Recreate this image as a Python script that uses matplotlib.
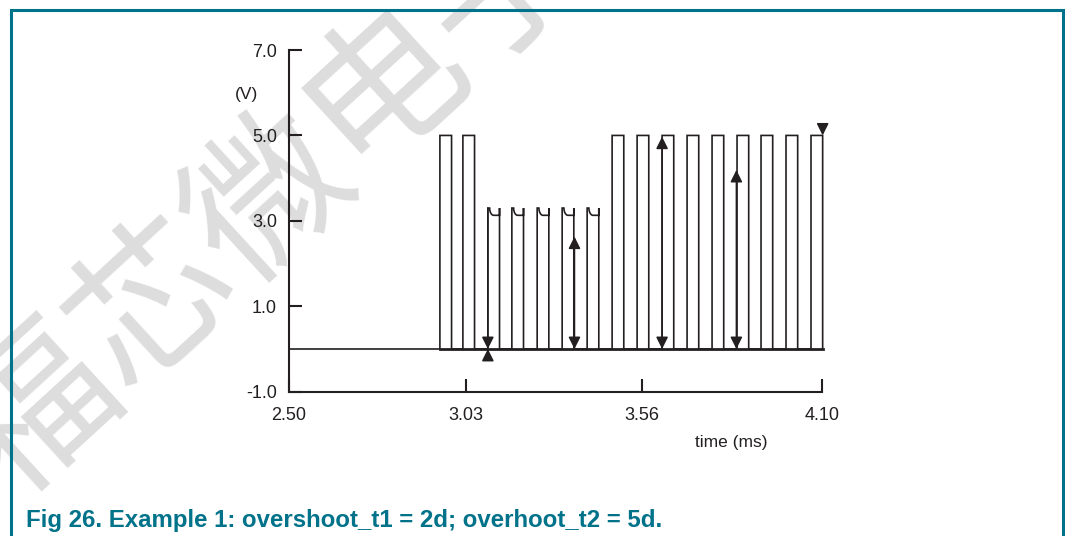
"""
Overshoot example waveform (Fig 26) - pulse train with reduced pulses.
Output: out.png
"""

import numpy as np
import matplotlib
matplotlib.use('Agg')
import matplotlib.pyplot as plt
from matplotlib.lines import Line2D

# ─────────────────────────────────────────────────────────────────────────────
# COLORS / FONTS
# ─────────────────────────────────────────────────────────────────────────────
INK       = "#231f20"
TEAL      = "#00728a"
WATERMARK = "#dddddd"

plt.rcParams['font.family'] = ['Liberation Sans', 'DejaVu Sans']

# ─────────────────────────────────────────────────────────────────────────────
# DATA
# ─────────────────────────────────────────────────────────────────────────────
T_START     = 2.50
PULSE_START = [2.953, 3.022, 3.097, 3.169, 3.245, 3.320, 3.395, 3.470,
               3.545, 3.620, 3.695, 3.770, 3.845, 3.917, 3.992, 4.067]
PULSE_WIDTH = 0.035
PULSE_LEVEL = [5.0, 5.0, 3.3, 3.3, 3.3, 3.3, 3.3, 5.0,
               5.0, 5.0, 5.0, 5.0, 5.0, 5.0, 5.0, 5.0]
LOW_SETTLE  = 3.13     # reduced pulses droop to this after the overshoot

# dimension arrows (0 V up to the given level)
DOUBLE_X   = [3.357, 3.620, 3.843]
DOUBLE_TOP = [2.63, 4.97, 4.19]
PINCH_X    = 3.097     # arrowheads meeting at 0 V
PINCH_TOP  = 3.3
CAP_X      = 4.102     # marker on top of the last pulse
CAP_Y      = 5.0

X_TICKS = [2.50, 3.03, 3.56, 4.10]
Y_TICKS = [-1.0, 1.0, 3.0, 5.0, 7.0]

CAPTION = "Fig 26. Example 1: overshoot_t1 = 2d; overhoot_t2 = 5d."

# ─────────────────────────────────────────────────────────────────────────────
# WAVEFORM PATH
# ─────────────────────────────────────────────────────────────────────────────
xs, ys = [T_START], [0.0]
arc = np.linspace(0, np.pi / 2, 12)
for t0, lvl in zip(PULSE_START, PULSE_LEVEL):
    t1 = t0 + PULSE_WIDTH
    xs += [t0, t0]
    ys += [0.0, lvl]
    if lvl < max(PULSE_LEVEL):
        stub = t0 + 0.15 * PULSE_WIDTH
        run = 0.35 * PULSE_WIDTH
        xs += list(stub + run * (1 - np.cos(arc)))
        ys += list(LOW_SETTLE + (lvl - LOW_SETTLE) * (1 - np.sin(arc)))
        xs += [t1, t1, t1]
        ys += [LOW_SETTLE, lvl, 0.0]
    else:
        xs += [t1, t1]
        ys += [lvl, 0.0]

# ─────────────────────────────────────────────────────────────────────────────
# FIGURE
# ─────────────────────────────────────────────────────────────────────────────
fig = plt.figure(figsize=(10.66, 5.36), dpi=100, facecolor='white')

# watermark
fig.text(0.255, 0.625, "福芯微电子", rotation=42.5, fontsize=114,
         color=WATERMARK, ha='center', va='center',
         family=['Noto Sans CJK SC', 'DejaVu Sans'], fontweight='normal',
         zorder=0)

ax = fig.add_axes([0.2711, 0.2692, 0.5, 0.6375])
ax.set_zorder(1)
ax.patch.set_alpha(0)

ax.plot(xs, ys, color=INK, lw=1.2, solid_joinstyle='miter', clip_on=False)
ax.plot([PULSE_START[0], PULSE_START[-1] + PULSE_WIDTH], [0, 0],
        color=INK, lw=2.0, clip_on=False)

head = '<|-|>,head_length=0.6,head_width=0.3'
single = '-|>,head_length=0.6,head_width=0.3'
aprops = dict(color=INK, lw=1.1, shrinkA=0, shrinkB=0, mutation_scale=12)

for x, top in zip(DOUBLE_X, DOUBLE_TOP):
    ax.annotate('', xy=(x, top), xytext=(x, 0),
                arrowprops=dict(arrowstyle=head, **aprops),
                annotation_clip=False)

ax.annotate('', xy=(PINCH_X, 0), xytext=(PINCH_X, PINCH_TOP),
            arrowprops=dict(arrowstyle=single, **aprops), annotation_clip=False)
ax.annotate('', xy=(PINCH_X, 0), xytext=(PINCH_X, -0.25),
            arrowprops=dict(arrowstyle=single, **aprops), annotation_clip=False)
ax.annotate('', xy=(CAP_X, CAP_Y), xytext=(CAP_X, CAP_Y + 0.22),
            arrowprops=dict(arrowstyle=single, **aprops), annotation_clip=False)

# axes styling
ax.set_xlim(X_TICKS[0], X_TICKS[-1])
ax.set_ylim(Y_TICKS[0], Y_TICKS[-1])
ax.set_xticks(X_TICKS)
ax.set_xticklabels([f"{v:.2f}" for v in X_TICKS])
ax.set_yticks(Y_TICKS)
ax.set_yticklabels([f"{v:.1f}" for v in Y_TICKS])
for side in ['top', 'right']:
    ax.spines[side].set_visible(False)
for side in ['left', 'bottom']:
    ax.spines[side].set_color(INK)
    ax.spines[side].set_linewidth(1.5)
ax.tick_params(direction='in', length=9.4, width=1.5, color=INK,
               labelcolor=INK, labelsize=13)
ax.tick_params(axis='y', pad=8.7)
ax.tick_params(axis='x', pad=11)

ax.text(2.372, 5.95, "(V)", ha='center', va='center', fontsize=12.5,
        color=INK, clip_on=False)
ax.text(3.827, -2.18, "time (ms)", ha='center', va='center', fontsize=12.5,
        color=INK, clip_on=False)

# frame + caption
fx_l, fx_r, fy_t = 10.5 / 1066, 1062.7 / 1066, 1 - 9.7 / 536
fig.add_artist(Line2D([fx_l, fx_l, fx_r, fx_r], [-0.05, fy_t, fy_t, -0.05],
                      transform=fig.transFigure, color=TEAL, lw=2.2,
                      solid_joinstyle='miter'))
fig.text(26 / 1066, 1 - 527 / 536, CAPTION, ha='left', va='baseline',
         fontsize=17.3, fontweight='bold', color=TEAL)

plt.savefig("out.png", dpi=100, facecolor='white')
plt.close()
